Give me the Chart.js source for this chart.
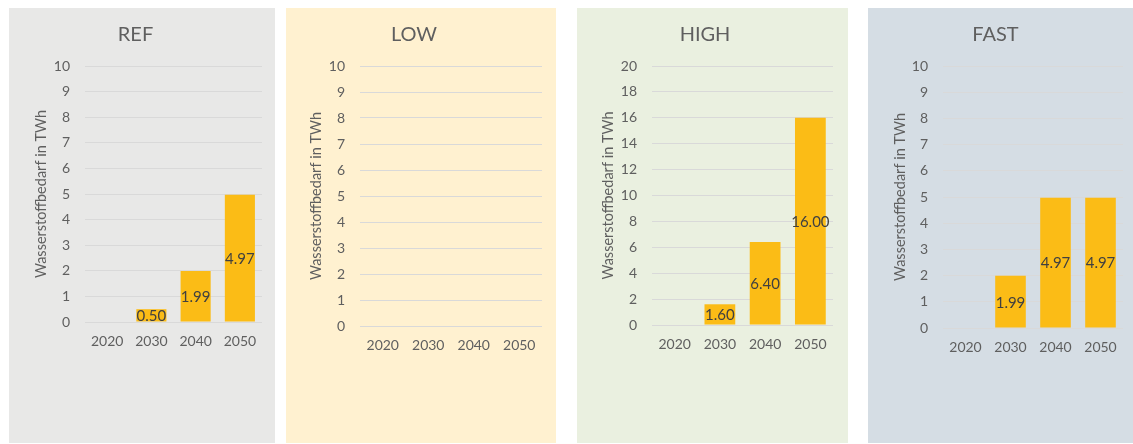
<!DOCTYPE html>
<html lang="de">
<head>
<meta charset="utf-8">
<title>Wasserstoffbedarf je Szenario</title>
<script src="https://cdn.jsdelivr.net/npm/chart.js@4/dist/chart.umd.min.js"></script>
<style>
    html, body {
        margin: 0;
        padding: 0;
        background: #ffffff;
    }
    .panel {
        position: absolute;
        top: 8px;
        height: 435px;
    }
</style>
</head>
<body>
<div class="panel" id="panel-ref"><canvas id="chart-ref"></canvas></div>
<div class="panel" id="panel-low"><canvas id="chart-low"></canvas></div>
<div class="panel" id="panel-high"><canvas id="chart-high"></canvas></div>
<div class="panel" id="panel-fast"><canvas id="chart-fast"></canvas></div>

<script>
// Szenario-Daten (TWh)
const years = ['2020', '2030', '2040', '2050'];
const scenarioNames = ['REF', 'LOW', 'HIGH', 'FAST'];
const refValues = [null, 0.50, 1.99, 4.97];
const lowValues = [null, null, null, null];
const highValues = [null, 1.60, 6.40, 16.00];
const fastValues = [null, 1.99, 4.97, 4.97];
const axisMax = [10, 10, 20, 10];
const axisStep = [1, 1, 2, 1];
const axisTitle = 'Wasserstoffbedarf in TWh';

const seriesValues = [refValues, lowValues, highValues, fastValues];

// Layout of the four panels (pixels, relative to each panel)
const panelLayout = [
    { id: 'ref',  left: 9,   width: 266, bg: '#E8E8E7', plotLeft: 76, plotRight: 253, plotBottom: 314, titleX: 33 },
    { id: 'low',  left: 286, width: 270, bg: '#FFF1D0', plotLeft: 74, plotRight: 256, plotBottom: 318, titleX: 31 },
    { id: 'high', left: 577, width: 271, bg: '#EAF0E0', plotLeft: 75, plotRight: 256, plotBottom: 317, titleX: 32 },
    { id: 'fast', left: 868, width: 265, bg: '#D5DDE4', plotLeft: 75, plotRight: 255, plotBottom: 320, titleX: 33 }
];

const PANEL_HEIGHT = 435;
const PLOT_TOP = 58;
const X_AXIS_HEIGHT = 45;
const FONT = 'Lato';
const TEXT_COLOR = '#5F5F5F';
const LABEL_COLOR = '#404040';
const GRID_COLOR = '#D9D9D9';
const BAR_COLOR = '#FBBC16';

/**
 * Writes the value (two decimals) in the middle of each bar
 */
const barValueLabels = {
    id: 'barValueLabels',
    afterDatasetsDraw(chart) {
        const ctx = chart.ctx;
        const values = chart.data.datasets[0].data;
        chart.getDatasetMeta(0).data.forEach((bar, i) => {
            const v = values[i];
            if (v === null || v === undefined) {
                return;
            }
            ctx.save();
            ctx.font = `15px ${FONT}`;
            ctx.fillStyle = LABEL_COLOR;
            ctx.textAlign = 'center';
            ctx.textBaseline = 'middle';
            ctx.fillText(v.toFixed(2), bar.x, (bar.y + bar.base) / 2 + 1);
            ctx.restore();
        });
    }
};

/**
 * Creates one scenario chart inside its panel
 * @param {number} idx - index of the scenario
 */
function createScenarioChart(idx) {
    const layout = panelLayout[idx];
    const panel = document.getElementById(`panel-${layout.id}`);
    panel.style.left = layout.left + 'px';
    panel.style.width = layout.width + 'px';
    panel.style.background = layout.bg;

    const titleLineHeight = 15 * 1.2;

    return new Chart(document.getElementById(`chart-${layout.id}`), {
        type: 'bar',
        data: {
            labels: years,
            datasets: [{
                label: scenarioNames[idx],
                data: seriesValues[idx],
                backgroundColor: BAR_COLOR,
                borderWidth: 0,
                barPercentage: 0.68,
                categoryPercentage: 1.0
            }]
        },
        options: {
            responsive: true,
            maintainAspectRatio: false,
            animation: false,
            layout: {
                padding: {
                    left: 0,
                    top: 0,
                    right: layout.width - layout.plotRight,
                    bottom: PANEL_HEIGHT - layout.plotBottom - X_AXIS_HEIGHT
                }
            },
            plugins: {
                legend: { display: false },
                tooltip: { enabled: false },
                title: {
                    display: true,
                    text: scenarioNames[idx],
                    color: TEXT_COLOR,
                    font: { family: FONT, size: 20, weight: 'normal' },
                    padding: { top: 15, bottom: PLOT_TOP - 15 - 24 }
                }
            },
            scales: {
                x: {
                    grid: { display: false, drawTicks: false },
                    border: { display: false },
                    ticks: {
                        color: TEXT_COLOR,
                        font: { family: FONT, size: 14 },
                        padding: 11
                    },
                    afterFit: (scale) => { scale.height = X_AXIS_HEIGHT; }
                },
                y: {
                    min: 0,
                    max: axisMax[idx],
                    grid: {
                        color: GRID_COLOR,
                        drawTicks: false
                    },
                    border: { display: false },
                    ticks: {
                        stepSize: axisStep[idx],
                        color: TEXT_COLOR,
                        font: { family: FONT, size: 14 },
                        padding: 15
                    },
                    title: {
                        display: true,
                        text: axisTitle,
                        color: TEXT_COLOR,
                        font: { family: FONT, size: 14.5 },
                        padding: { top: layout.titleX - titleLineHeight / 2, bottom: 0 }
                    },
                    afterFit: (scale) => { scale.width = layout.plotLeft; }
                }
            }
        },
        plugins: [barValueLabels]
    });
}

scenarioNames.forEach((name, idx) => createScenarioChart(idx));
</script>
</body>
</html>
